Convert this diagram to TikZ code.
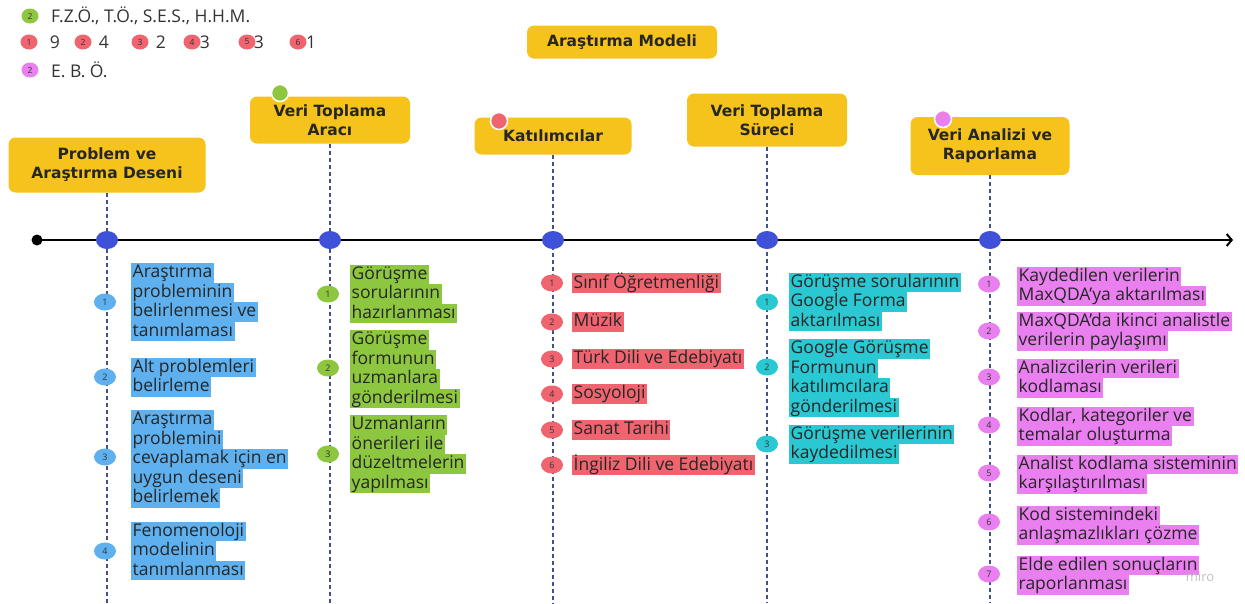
\documentclass[tikz,border=0pt]{standalone}
\usepackage{fontspec}
\setmainfont{Open Sans}
\newfontfamily\headfont{DejaVu Sans}
\usetikzlibrary{shapes.geometric,arrows.meta,positioning}

\definecolor{hdr}{HTML}{F5C31C}
\definecolor{tblue}{HTML}{3F51D8}
\definecolor{guidecol}{HTML}{44508A}
\definecolor{hlblue}{HTML}{5FB0EE}
\definecolor{hlgreen}{HTML}{8DC63F}
\definecolor{hlred}{HTML}{F0646F}
\definecolor{hlcyan}{HTML}{2AC8D2}
\definecolor{hlpink}{HTML}{EA80F0}
\colorlet{hlc}{white}
\setlength{\fboxsep}{0pt}

% one highlighted line of an item
\newcommand{\hl}[1]{\colorbox{hlc}{\rule[-5pt]{0pt}{19.5pt}\hspace{1.5pt}#1\hspace{1.5pt}}}

\tikzstyle{phase} = [rectangle, rounded corners=7pt, fill=hdr, align=center, text=black!85, font=\headfont\bfseries\fontsize{15.5}{19}\selectfont]
\tikzstyle{guide} = [draw=guidecol, line width=1.2pt, dash pattern=on 4pt off 3pt]
\tikzstyle{axis} = [line width=2pt, -{Straight Barb[length=5pt,width=12pt,line width=2pt]}]
\tikzstyle{tdot} = [ellipse, fill=tblue, minimum width=22pt, minimum height=18pt, inner sep=0pt]
\tikzstyle{startdot} = [circle, fill=black, minimum size=11pt, inner sep=0pt]
\tikzstyle{tagdot} = [circle, draw=white, line width=1.5pt, minimum size=17pt, inner sep=0pt]
\tikzstyle{legend} = [anchor=west, inner sep=0pt, text=black!80, font=\fontsize{17.5}{20}\selectfont]
\tikzset{
  item/.style={anchor=west, align=left, inner sep=0pt, text=black!85,
    font=\fontsize{17.5}{19.5}\selectfont, execute at begin node={\colorlet{hlc}{#1}}},
  badge/.style={ellipse, fill=#1, minimum width=22pt, minimum height=17pt, inner sep=0pt,
    text=black!80, font=\fontsize{9}{9}\selectfont},
  lbadge/.style={ellipse, fill=#1, minimum width=17pt, minimum height=15pt, inner sep=0pt,
    text=black!80, font=\fontsize{8.5}{9}\selectfont}
}

\begin{document}
\begin{tikzpicture}[x=1pt,y=-1pt]
\useasboundingbox (0,0) rectangle (1245,603);

% legend
\node[lbadge=hlgreen] (lg) at (30,16) {2};
\node[legend] (lgt) at (51,16) {F.Z.Ö., T.Ö., S.E.S., H.H.M.};
\foreach \n/\x/\v/\vx in {1/29/9/55, 2/83/4/104, 3/140/2/161, 4/192/3/205, 5/247/3/259, 6/298/1/311} {
  \node[lbadge=hlred] (lr\n) at (\x,42) {\n};
  \node[legend, anchor=center] (lv\n) at (\vx,42) {\v};
}
\node[lbadge=hlpink] (lp) at (30,70) {2};
\node[legend] (lpt) at (51,70) {E. B. Ö.};

% phases
\node[phase, minimum width=190pt, minimum height=33pt] (title) at (622,42) {Araştırma Modeli};
\node[phase, minimum width=197pt, minimum height=55pt] (h1) at (107,165) {Problem ve\\Araştırma Deseni};
\node[phase, minimum width=160pt, minimum height=47pt] (h2) at (330,120) {Veri Toplama\\Aracı};
\node[phase, minimum width=157pt, minimum height=37pt] (h3) at (553,136) {Katılımcılar};
\node[phase, minimum width=160pt, minimum height=53pt] (h4) at (767,120) {Veri Toplama\\Süreci};
\node[phase, minimum width=159pt, minimum height=58pt] (h5) at (990,146) {Veri Analizi ve\\Raporlama};

\node[tagdot, fill=hlgreen] (tg) at (280,93) {};
\node[tagdot, fill=hlred] (tr) at (499,121) {};
\node[tagdot, fill=hlpink] (tp) at (943,119) {};

% guides and time line
\coordinate (bot) at (0,603);
\coordinate (tstart) at (37,240);
\coordinate (tend) at (1233,240);
\foreach \i in {1,...,5}
  \draw[guide] (h\i.south) -- (h\i.south |- bot);
\draw[axis] (tstart) -- (tend);
\node[startdot] (t0) at (tstart) {};
\foreach \i in {1,...,5}
  \node[tdot] (d\i) at (h\i.south |- tstart) {};

% Problem ve Arastirma Deseni
\node[item=hlblue] (p1) at (131,302) {\hl{Araştırma}\\\hl{probleminin}\\\hl{belirlenmesi ve}\\\hl{tanımlaması}};
\node[item=hlblue] (p2) at (131,377) {\hl{Alt problemleri}\\\hl{belirleme}};
\node[item=hlblue] (p3) at (131,459) {\hl{Araştırma}\\\hl{problemini}\\\hl{cevaplamak için en}\\\hl{uygun deseni}\\\hl{belirlemek}};
\node[item=hlblue] (p4) at (131,551) {\hl{Fenomenoloji}\\\hl{modelinin}\\\hl{tanımlanması}};
\foreach \i/\y in {1/302, 2/377, 3/457, 4/551}
  \node[badge=hlblue] (p\i n) at (105,\y) {\i};

% Veri Toplama Araci
\node[item=hlgreen] (a1) at (350,294) {\hl{Görüşme}\\\hl{sorularının}\\\hl{hazırlanması}};
\node[item=hlgreen] (a2) at (350,369) {\hl{Görüşme}\\\hl{formunun}\\\hl{uzmanlara}\\\hl{gönderilmesi}};
\node[item=hlgreen] (a3) at (350,454) {\hl{Uzmanların}\\\hl{önerileri ile}\\\hl{düzeltmelerin}\\\hl{yapılması}};
\foreach \i/\y in {1/294, 2/368, 3/454}
  \node[badge=hlgreen] (a\i n) at (328,\y) {\i};

% Katilimcilar
\foreach \i/\y/\t in {1/283/Sınıf Öğretmenliği, 2/322/Müzik, 3/359/Türk Dili ve Edebiyatı, 4/394/Sosyoloji, 5/430/Sanat Tarihi, 6/465/İngiliz Dili ve Edebiyatı} {
  \node[item=hlred] (k\i) at (572,\y) {\hl{\t}};
  \node[badge=hlred] (k\i n) at (552,\y) {\i};
}

% Veri Toplama Sureci
\node[item=hlcyan] (s1) at (789,302) {\hl{Görüşme sorularının}\\\hl{Google Forma}\\\hl{aktarılması}};
\node[item=hlcyan] (s2) at (789,378) {\hl{Google Görüşme}\\\hl{Formunun}\\\hl{katılımcılara}\\\hl{gönderilmesi}};
\node[item=hlcyan] (s3) at (789,444) {\hl{Görüşme verilerinin}\\\hl{kaydedilmesi}};
\foreach \i/\y in {1/302, 2/367, 3/444}
  \node[badge=hlcyan] (s\i n) at (767,\y) {\i};

% Veri Analizi ve Raporlama
\node[item=hlpink] (r1) at (1017,286) {\hl{Kaydedilen verilerin}\\\hl{MaxQDA’ya aktarılması}};
\node[item=hlpink] (r2) at (1017,331) {\hl{MaxQDA’da ikinci analistle}\\\hl{verilerin paylaşımı}};
\node[item=hlpink] (r3) at (1017,378) {\hl{Analizcilerin verileri}\\\hl{kodlaması}};
\node[item=hlpink] (r4) at (1017,426) {\hl{Kodlar, kategoriler ve}\\\hl{temalar oluşturma}};
\node[item=hlpink] (r5) at (1017,474) {\hl{Analist kodlama sisteminin}\\\hl{karşılaştırılması}};
\node[item=hlpink] (r6) at (1017,525) {\hl{Kod sistemindeki}\\\hl{anlaşmazlıkları çözme}};
\node[item=hlpink] (r7) at (1017,575) {\hl{Elde edilen sonuçların}\\\hl{raporlanması}};
\foreach \i/\y in {1/284, 2/331, 3/377, 4/425, 5/473, 6/522, 7/574}
  \node[badge=hlpink] (r\i n) at (989,\y) {\i};

\node[text=black!25, font=\fontsize{13}{14}\selectfont] (wm) at (1200,577) {miro};
\end{tikzpicture}
\end{document}
